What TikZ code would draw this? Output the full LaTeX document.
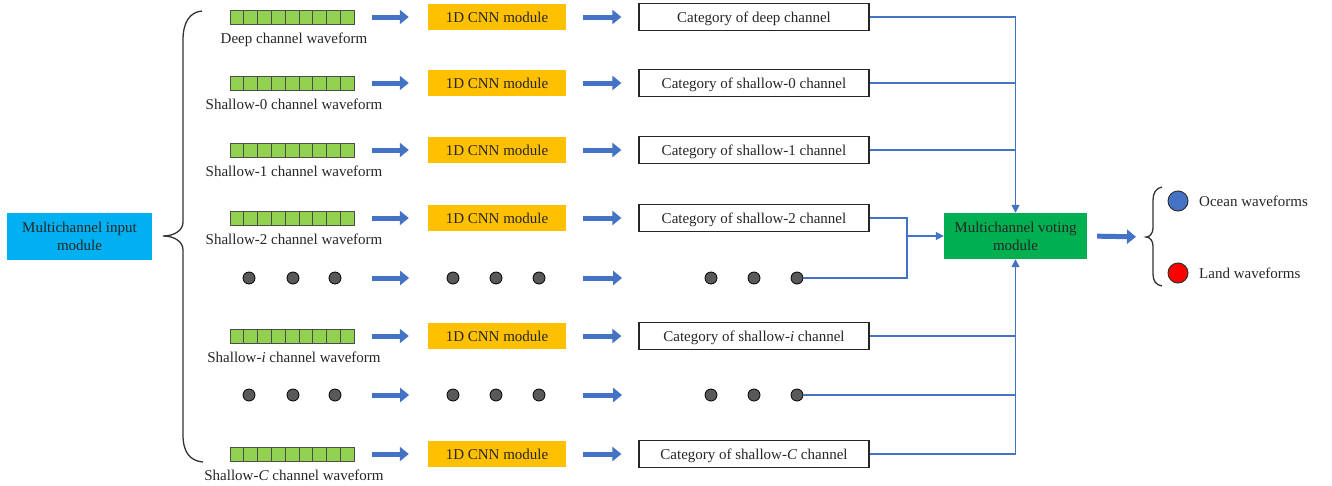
\documentclass[tikz,border=0pt]{standalone}
\usepackage{fontspec}
\setmainfont{Liberation Serif}
\usetikzlibrary{arrows.meta}
\definecolor{wavegreen}{HTML}{92D050}
\definecolor{cnnorange}{HTML}{FFC000}
\definecolor{inputcyan}{HTML}{00B0F0}
\definecolor{votegreen}{HTML}{00B050}
\definecolor{flowblue}{HTML}{4472C4}
\definecolor{oceanblue}{HTML}{4472C4}
\tikzset{
  txt/.style={font=\fontsize{15}{18}\selectfont, text=black!85, inner sep=0pt},
  line/.style={txt, text height=10pt, text depth=0pt},
  wavecell/.style={draw=black!70, line width=0.8pt, fill=wavegreen},
  cnnbox/.style={line, fill=cnnorange, minimum width=138pt, minimum height=26pt},
  catbox/.style={line, draw=black!85, line width=1.2pt, fill=white, minimum width=230pt, minimum height=27pt},
  dotmark/.style={circle, draw=black, line width=0.8pt, fill=black!65, minimum size=12pt, inner sep=0pt},
  fatarrow/.style={draw=flowblue, line width=5pt, -{Triangle[length=9pt,width=14pt]}},
  link/.style={draw=flowblue, line width=1.3pt},
  linkarrow/.style={link, -{Triangle[length=8pt,width=8pt]}},
}
\begin{document}
\begin{tikzpicture}[x=1pt,y=-1pt]
  \useasboundingbox (0,0) rectangle (1332,485);

  % input module and left brace
  \node[txt, fill=inputcyan, minimum width=145pt, minimum height=47pt, align=center] (input) at (79.5,236) {Multichannel input\\module};
  \draw[black!80, line width=1.3pt] (202,11) .. controls (190,12) and (183,22) .. (183,40) -- (183,222)
    .. controls (183,230) and (175,236) .. (163,236) .. controls (175,236) and (183,242) .. (183,250)
    -- (183,435) .. controls (183,452) and (190,461) .. (203,462);

  % channel rows
  \foreach \y/\lab/\cat/\n in {17/Deep/deep/0, 83/Shallow-0/shallow-0/1, 150/Shallow-1/shallow-1/2,
      218/Shallow-2/shallow-2/3, 336/{Shallow-\textit{i}}/{shallow-\textit{i}}/4, 454/{Shallow-\textit{C}}/{shallow-\textit{C}}/5}{
    \node[minimum width=124pt, minimum height=14pt, inner sep=0pt] (wave\n) at (292,\y) {};
    \foreach \k in {0,...,8}
      \draw[wavecell] (230+\k*13.78,\y-7) rectangle ++(13.78,14);
    \node[line] (wavelab\n) at (294,\y+21) {\lab\ channel waveform};
    \node[cnnbox] (cnn\n) at (497,\y) {1D CNN module};
    \node[catbox] (cat\n) at (754,\y) {Category of \cat\ channel};
    \draw[fatarrow, shorten <=18pt, shorten >=19pt] (wave\n.east) -- (cnn\n.west);
    \draw[fatarrow, shorten <=17pt, shorten >=17pt] (cnn\n.east) -- (cat\n.west);
  }

  % ellipsis rows
  \foreach \y/\r in {278/a, 395/b}{
    \foreach \x/\k in {249/1, 293/2, 335/3, 453/4, 496/5, 539/6, 711/7, 754/8, 797/9}
      \node[dotmark] (dot\r\k) at (\x,\y) {};
    \draw[fatarrow, shorten <=30.5pt, shorten >=37.5pt] (dot\r3.east) -- (dot\r4.west);
    \draw[fatarrow, shorten <=37.5pt, shorten >=82.5pt] (dot\r6.east) -- (dot\r7.west);
  }

  % voting module
  \node[txt, fill=votegreen, minimum width=143pt, minimum height=46pt, align=center] (vote) at (1015.5,236) {Multichannel voting\\module};

  \draw[linkarrow] (cat0.east) -| (vote.north);
  \draw[link] (cat1.east) -- (cat1.east -| vote.north);
  \draw[link] (cat2.east) -- (cat2.east -| vote.north);
  \coordinate (merge) at (907,236);
  \draw[link] (cat3.east) -| (merge);
  \draw[link] (dota9.east) -| (merge);
  \draw[linkarrow] (merge) -- (vote.west);
  \draw[linkarrow] (cat5.east) -| (vote.south);
  \draw[link] (cat4.east) -- (cat4.east -| vote.south);
  \draw[link] (dotb9.east) -- (dotb9.east -| vote.south);

  % output
  \coordinate (outbrace) at (1146,237);
  \draw[fatarrow, shorten <=10pt, shorten >=10pt] (vote.east) -- (outbrace);
  \draw[black!80, line width=1.3pt] (1162,187) .. controls (1156,188) and (1153,193) .. (1153,200) -- (1153,228)
    .. controls (1153,233) and (1150,237) .. (1146,237) .. controls (1150,237) and (1153,241) .. (1153,246)
    -- (1153,274) .. controls (1153,281) and (1156,285) .. (1162,286);
  \node[circle, draw=black!80, line width=1pt, fill=oceanblue, minimum size=20pt, inner sep=0pt] (ocean) at (1178,201) {};
  \node[circle, draw=black!80, line width=1pt, fill=red, minimum size=20pt, inner sep=0pt] (land) at (1178,273) {};
  \node[line, anchor=west] (oceanlab) at (1199,201) {Ocean waveforms};
  \node[line, anchor=west] (landlab) at (1199,273) {Land waveforms};
\end{tikzpicture}
\end{document}
